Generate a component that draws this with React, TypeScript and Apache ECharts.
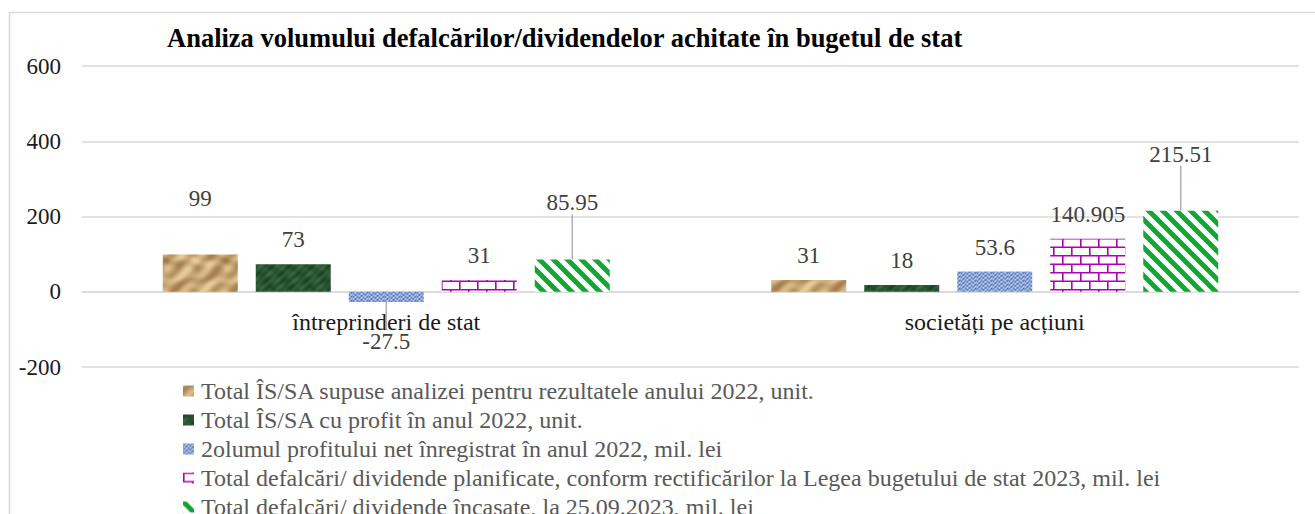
import React, { useEffect, useRef } from 'react';
import * as echarts from 'echarts';

const categories = ['întreprinderi de stat', 'societăți pe acțiuni'];
const seriesNames = [
  'Total ÎS/SA supuse analizei pentru rezultatele anului 2022, unit.',
  'Total ÎS/SA cu profit în anul 2022, unit.',
  '2olumul profitului net înregistrat în anul 2022, mil. lei',
  'Total defalcări/ dividende planificate, conform rectificărilor la Legea bugetului de stat 2023, mil. lei',
  'Total defalcări/ dividende încasate, la 25.09.2023, mil. lei',
];
const totalAnalizate = [99, 31];
const cuProfit = [73, 18];
const profitNet = [-27.5, 53.6];
const planificate = [31, 140.905];
const incasate = [85.95, 215.51];
const seriesValues = [totalAnalizate, cuProfit, profitNet, planificate, incasate];
const yMin = -200;
const yMax = 600;
const yInterval = 200;

const TITLE = 'Analiza volumului defalcărilor/dividendelor achitate în bugetul de stat';
const FONT = 'Liberation Serif, serif';

// label adjustments (style, not data)
const labelNudge: Record<string, number> = { '0-0': -32, '4-0': -32, '4-1': -32, '2-0': 15 };
const guided = new Set(['4-0', '4-1', '2-0']);

function hex(c: string) {
  return [parseInt(c.slice(1, 3), 16), parseInt(c.slice(3, 5), 16), parseInt(c.slice(5, 7), 16)];
}

function makeTile(w: number, h: number, draw: (ctx: CanvasRenderingContext2D) => void) {
  const c = document.createElement('canvas');
  c.width = w;
  c.height = h;
  const ctx = c.getContext('2d') as CanvasRenderingContext2D;
  draw(ctx);
  return { image: c, repeat: 'repeat', imageWidth: w, imageHeight: h } as any;
}

function texture(w: number, h: number, light: string, dark: string, f: (x: number, y: number) => number) {
  return makeTile(w, h, (ctx) => {
    const img = ctx.createImageData(w, h);
    const a = hex(light);
    const b = hex(dark);
    for (let y = 0; y < h; y++) {
      for (let x = 0; x < w; x++) {
        let t = f(x, y);
        t = Math.max(0, Math.min(1, t));
        const i = (y * w + x) * 4;
        img.data[i] = a[0] + (b[0] - a[0]) * t;
        img.data[i + 1] = a[1] + (b[1] - a[1]) * t;
        img.data[i + 2] = a[2] + (b[2] - a[2]) * t;
        img.data[i + 3] = 255;
      }
    }
    ctx.putImageData(img, 0, 0);
  });
}

function buildPatterns() {
  const P = Math.PI * 2;
  const tan = texture(60, 40, '#e6c997', '#98703f', (x, y) =>
    0.4 +
    0.3 * Math.sin((P * x) / 60 + 2.5 * Math.sin((P * y) / 40)) * Math.cos((P * y) / 40 + Math.sin((P * 2 * x) / 60)) +
    0.2 * Math.sin((P * 3 * x) / 60 + (P * 2 * y) / 40)
  );
  const green = texture(40, 40, '#3c6e44', '#183c21', (x, y) =>
    0.5 +
    0.3 * Math.sin((P * 2 * x) / 40 + 1.8 * Math.sin((P * y) / 40)) * Math.cos((P * 3 * y) / 40) +
    0.15 * Math.sin((P * 5 * (x + y)) / 40)
  );
  const blue = texture(16, 8, '#b3c7ee', '#3f62aa', (x, y) =>
    0.35 + 0.4 * Math.sin((P * 4 * x) / 16) * Math.sin((P * 2 * y) / 8 + x * 0.3) + 0.15 * Math.cos((P * 2 * (x + 2 * y)) / 16)
  );
  const brick = makeTile(36, 17, (ctx) => {
    ctx.fillStyle = '#ffffff';
    ctx.fillRect(0, 0, 36, 17);
    ctx.strokeStyle = '#b000b0';
    ctx.lineWidth = 1.6;
    ctx.beginPath();
    ctx.moveTo(0, 0.8); ctx.lineTo(36, 0.8);
    ctx.moveTo(0, 9.3); ctx.lineTo(36, 9.3);
    ctx.moveTo(0.8, 0); ctx.lineTo(0.8, 9.3);
    ctx.moveTo(18.8, 0); ctx.lineTo(18.8, 9.3);
    ctx.moveTo(9.8, 9.3); ctx.lineTo(9.8, 17);
    ctx.moveTo(27.8, 9.3); ctx.lineTo(27.8, 17);
    ctx.stroke();
  });
  const stripes = makeTile(14, 14, (ctx) => {
    ctx.fillStyle = '#ffffff';
    ctx.fillRect(0, 0, 14, 14);
    ctx.strokeStyle = '#13a536';
    ctx.lineWidth = 5;
    ctx.beginPath();
    for (let k = -1; k <= 1; k++) {
      ctx.moveTo(-2, -2 + k * 14);
      ctx.lineTo(16, 16 + k * 14);
    }
    ctx.stroke();
  });
  return [tan, green, blue, brick, stripes];
}

export default function App() {
  const ref = useRef<HTMLDivElement>(null);
  useEffect(() => {
    if (!ref.current) return;
    const chart = echarts.init(ref.current, null, { renderer: 'svg' });
    const patterns = buildPatterns();
    const series = seriesNames.map((name, si) => ({
      name,
      type: 'bar',
      barWidth: 75,
      barGap: '24%',
      itemStyle: { color: patterns[si] },
      label: {
        show: true,
        position: 'top',
        distance: 13,
        fontSize: 23,
        fontFamily: FONT,
        color: '#404040',
      },
      labelLine: { show: false, lineStyle: { color: '#a6a6a6', width: 1.3 } },
      labelLayout: (p: any) => {
        const key = p.seriesIndex + '-' + p.dataIndex;
        return labelNudge[key] !== undefined ? { dy: labelNudge[key] } : {};
      },
      data: seriesValues[si].map((v, di) => ({
        value: v,
        label: v < 0 ? { position: 'bottom' } : undefined,
        labelLine: { show: guided.has(si + '-' + di) },
      })),
    }));
    chart.setOption({
      animation: false,
      backgroundColor: '#ffffff',
      title: {
        text: TITLE,
        left: 162,
        top: 19,
        textStyle: { fontFamily: FONT, fontSize: 26.5, fontWeight: 'bold', color: '#000000' },
      },
      graphic: [
        {
          type: 'rect',
          shape: { x: 9.5, y: 12.5, width: 1400, height: 700 },
          style: { fill: 'none', stroke: '#d9d9d9', lineWidth: 1.5 },
          silent: true,
        },
      ],
      legend: {
        orient: 'vertical',
        left: 178,
        top: 374,
        icon: 'rect',
        itemWidth: 11,
        itemHeight: 11,
        itemGap: 5,
        textStyle: { fontFamily: FONT, fontSize: 24, color: '#595959', padding: [0, 0, 0, 2] },
        data: seriesNames,
      },
      grid: { left: 82, right: 16, top: 66, bottom: 530 - 367 },
      xAxis: {
        type: 'category',
        data: categories,
        offset: -75.3,
        axisLine: { onZero: false, lineStyle: { color: '#d9d9d9', width: 1.5 } },
        axisTick: { show: false },
        axisLabel: { fontFamily: FONT, fontSize: 24, color: '#1a1a1a', margin: 18 },
      },
      yAxis: {
        type: 'value',
        min: yMin,
        max: yMax,
        interval: yInterval,
        axisLine: { show: false },
        axisTick: { show: false },
        splitLine: { lineStyle: { color: '#d9d9d9', width: 1.5 } },
        axisLabel: { fontFamily: FONT, fontSize: 23, color: '#1a1a1a', margin: 21 },
      },
      series,
    } as any);
    return () => chart.dispose();
  }, []);
  return (
    <div style={{ position: 'absolute', left: 0, top: 0, width: 1315, height: 514, overflow: 'hidden', background: '#fff' }}>
      <div ref={ref} style={{ width: 1315, height: 530 }} />
    </div>
  );
}
